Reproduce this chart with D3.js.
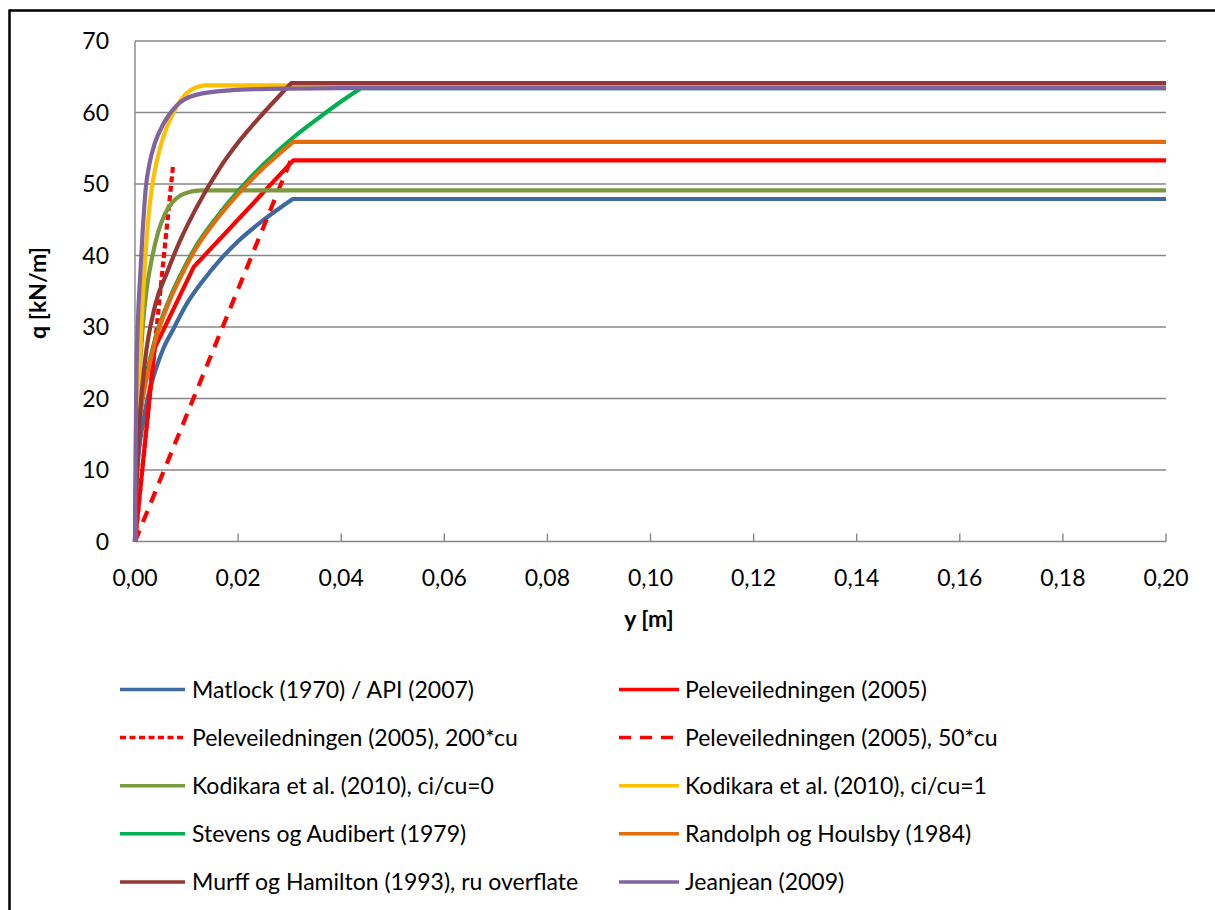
<!DOCTYPE html>
<html lang="en">

<head>
  <meta charset="UTF-8">
  <title>q-y kurver</title>
  <script src="https://d3js.org/d3.v7.min.js"></script>
  <style>
    body { margin: 0; background: #fff; }
    text { font-family: Lato, "Noto Sans", sans-serif; fill: #000; }
  </style>
</head>

<body>
  <svg id="chart" width="1215" height="910"></svg>
  <script>
    // axis ticks
    const xTicks = [0, 0.02, 0.04, 0.06, 0.08, 0.10, 0.12, 0.14, 0.16, 0.18, 0.20];
    const yTicks = [0, 10, 20, 30, 40, 50, 60, 70];

    // series, [y (m), q (kN/m)]
    const matlock = [[0, 0], [0.0002, 6.5], [0.0005, 10.5], [0.0009, 13.5], [0.0016, 16.8], [0.0026, 20.5],
      [0.0039, 23.8], [0.0055, 27], [0.0075, 29.8], [0.01, 33.2], [0.013, 36.3], [0.0165, 39.4],
      [0.02, 42], [0.025, 45], [0.0306, 47.9], [0.2, 47.9]];
    const pele = [[0, 0], [0.0038, 27.0], [0.0114, 38.4], [0.0307, 53.3], [0.2, 53.3]];
    const pele200 = [[0, 0], [0.0074, 52.7]];
    const pele50 = [[0, 0], [0.0302, 53.3]];
    const kodikara0 = [[0, 0], [0.0003, 12], [0.0008, 22], [0.0015, 30], [0.0023, 35.5], [0.0034, 40],
      [0.0045, 43.3], [0.0058, 45.8], [0.0072, 47.4], [0.0088, 48.4], [0.0107, 48.9], [0.013, 49.1], [0.2, 49.1]];
    const kodikara1 = [[0, 0], [0.0003, 11], [0.0007, 20], [0.0012, 29.5], [0.0019, 38.5], [0.0027, 46],
      [0.0035, 50.5], [0.0045, 54], [0.0056, 56.8], [0.0068, 59], [0.0082, 61.0], [0.01, 62.7],
      [0.0118, 63.5], [0.0135, 63.8], [0.2, 63.8]];
    const stevens = [[0, 0], [0.0002, 9], [0.0006, 15], [0.0013, 19.5], [0.0023, 23.5], [0.0039, 28.3],
      [0.0065, 33.6], [0.009, 37.5], [0.012, 41.5], [0.016, 45.5], [0.02, 49], [0.025, 52.8],
      [0.0307, 56.5], [0.035, 58.9], [0.0395, 61.3], [0.0438, 63.4], [0.2, 63.4]];
    const randolph = [[0, 0], [0.0002, 8.5], [0.0006, 14.5], [0.0013, 19], [0.0023, 23], [0.0039, 28],
      [0.0065, 33.3], [0.009, 37.2], [0.012, 41.2], [0.016, 45.2], [0.02, 48.6], [0.025, 52.3],
      [0.0307, 55.9], [0.2, 55.9]];
    const murff = [[0, 0], [0.0002, 6], [0.00045, 10.5], [0.001, 18], [0.0019, 25], [0.0039, 33],
      [0.0062, 37.6], [0.0087, 42], [0.012, 46.8], [0.0165, 52.3], [0.02, 55.8], [0.025, 60],
      [0.0303, 64.1], [0.2, 64.1]];
    const jeanjean = [[0, 0], [0.0001, 12], [0.0003, 24], [0.0006, 31.5], [0.001, 37], [0.0015, 43.5],
      [0.0021, 49.5], [0.0028, 52.8], [0.0038, 55.6], [0.0055, 58.4], [0.0081, 61.0], [0.012, 62.5],
      [0.0184, 63.1], [0.0256, 63.3], [0.04, 63.4], [0.2, 63.4]];

    const seriesNames = ['Matlock (1970) / API (2007)', 'Peleveiledningen (2005)',
      'Peleveiledningen (2005), 200*cu', 'Peleveiledningen (2005), 50*cu',
      'Kodikara et al. (2010), ci/cu=0', 'Kodikara et al. (2010), ci/cu=1',
      'Stevens og Audibert (1979)', 'Randolph og Houlsby (1984)',
      'Murff og Hamilton (1993), ru overflate', 'Jeanjean (2009)'];
    const seriesData = [matlock, pele, pele200, pele50, kodikara0, kodikara1, stevens, randolph, murff, jeanjean];

    const colors = ['#3d6aa1', '#ff0000', '#ff0000', '#ff0000', '#7a9a3e', '#ffc000', '#00b050', '#e46c0a', '#953735', '#8064a2'];
    const dashes = [null, null, '6,3.5', '12,9', null, null, null, null, null, null];
    const smooth = [true, false, false, false, true, true, true, true, true, true];

    const svg = d3.select('svg#chart');
    const margins = { top: 41, right: 49, bottom: 368.5, left: 135 };
    const width = +svg.attr('width');
    const height = +svg.attr('height');

    // frame (only top and left edges are inside the picture)
    svg.append('line').attr('x1', 9).attr('x2', 1215).attr('y1', 10.5).attr('y2', 10.5)
      .attr('stroke', '#000').attr('stroke-width', 2.5);
    svg.append('line').attr('x1', 9.5).attr('x2', 9.5).attr('y1', 9.5).attr('y2', 910)
      .attr('stroke', '#000').attr('stroke-width', 2.5);

    const xScale = d3.scaleLinear().domain([0, 0.2]).range([margins.left, width - margins.right]);
    const yScale = d3.scaleLinear().domain([0, 70]).range([height - margins.bottom, margins.top]);

    // gridlines
    yTicks.forEach(t => {
      svg.append('line')
        .attr('x1', xScale(0)).attr('x2', xScale(0.2))
        .attr('y1', yScale(t)).attr('y2', yScale(t))
        .attr('stroke', '#878787').attr('stroke-width', 1.4);
    });
    // y axis line
    svg.append('line').attr('x1', xScale(0)).attr('x2', xScale(0))
      .attr('y1', yScale(0)).attr('y2', yScale(70))
      .attr('stroke', '#878787').attr('stroke-width', 1.4);
    // x ticks (inside)
    xTicks.forEach(t => {
      svg.append('line')
        .attr('x1', xScale(t)).attr('x2', xScale(t))
        .attr('y1', yScale(0)).attr('y2', yScale(0) - 8)
        .attr('stroke', '#878787').attr('stroke-width', 1.4);
    });

    const fmt = d => d.toFixed(2).replace('.', ',');
    svg.selectAll('.xlab').data(xTicks).enter().append('text')
      .attr('x', d => xScale(d)).attr('y', 586)
      .attr('text-anchor', 'middle').style('font-size', '23px')
      .text(fmt);
    svg.selectAll('.ylab').data(yTicks).enter().append('text')
      .attr('x', 109).attr('y', d => yScale(d)).attr('dy', '0.36em')
      .attr('text-anchor', 'end').style('font-size', '23px')
      .text(d => d);

    svg.append('text').attr('x', 649).attr('y', 627)
      .attr('text-anchor', 'middle').style('font-size', '23px').style('font-weight', 'bold')
      .text('y [m]');
    svg.append('text').attr('transform', 'translate(46,293) rotate(-90)')
      .attr('text-anchor', 'middle').style('font-size', '23px').style('font-weight', 'bold')
      .text('q [kN/m]');

    // curves
    const curveLine = d3.line().x(d => xScale(d[0])).y(d => yScale(d[1])).curve(d3.curveMonotoneX);
    const straightLine = d3.line().x(d => xScale(d[0])).y(d => yScale(d[1]));
    const plot = svg.append('g');
    seriesData.forEach((pts, i) => {
      let path;
      if (smooth[i]) {
        const last = pts[pts.length - 1];
        path = curveLine(pts.slice(0, -1)) + 'L' + xScale(last[0]) + ',' + yScale(last[1]);
      } else {
        path = straightLine(pts);
      }
      plot.append('path')
        .attr('d', path)
        .attr('fill', 'none')
        .attr('stroke', colors[i])
        .attr('stroke-width', 4.2)
        .attr('stroke-linejoin', 'round')
        .attr('stroke-dasharray', dashes[i]);
    });

    // legend, two columns
    const legend = svg.append('g');
    seriesNames.forEach((name, i) => {
      const col = i % 2;
      const row = Math.floor(i / 2);
      const lx = col === 0 ? 120 : 619;
      const lineLen = col === 0 ? 65 : 60;
      const textX = col === 0 ? 192 : 685;
      const ly = 689.5 + row * 48.1;
      legend.append('line')
        .attr('x1', lx).attr('x2', lx + lineLen)
        .attr('y1', ly).attr('y2', ly)
        .attr('stroke', colors[i]).attr('stroke-width', 3.5)
        .attr('stroke-dasharray', dashes[i]);
      legend.append('text')
        .attr('x', textX).attr('y', ly).attr('dy', '0.36em')
        .style('font-size', '23px')
        .text(name);
    });
  </script>
</body>

</html>
